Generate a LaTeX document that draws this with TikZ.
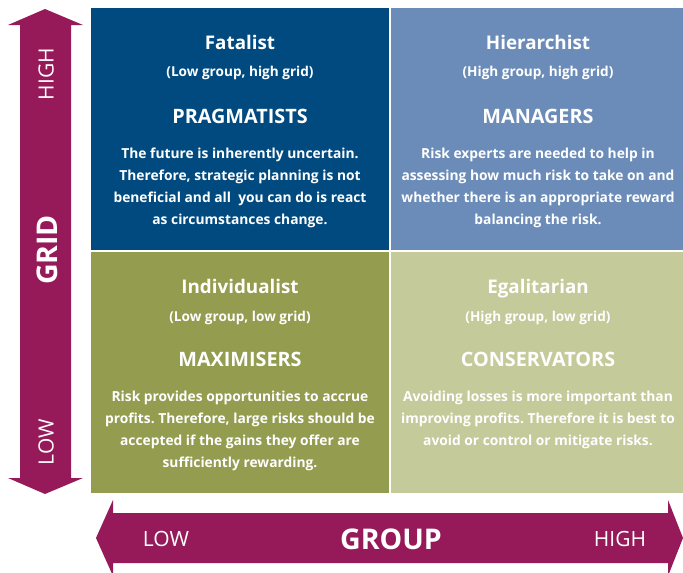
\documentclass[tikz,border=0pt]{standalone}
\usepackage{fontspec}
\setmainfont{Open Sans}
\usepackage{tikz}
\usetikzlibrary{positioning}

\definecolor{fatalblue}{RGB}{0,74,128}
\definecolor{hierblue}{RGB}{107,140,184}
\definecolor{indivgreen}{RGB}{148,156,80}
\definecolor{egalgreen}{RGB}{197,202,154}
\definecolor{axispurple}{RGB}{150,26,90}

\begin{document}
\frenchspacing
\begin{tikzpicture}[x=1pt, y=-1pt, text=white]
   \useasboundingbox (0,0) rectangle (683,573);
   \tikzset{quad/.style={rectangle, inner sep=0pt},
            title/.style={font=\fontsize{18.8}{22}\selectfont\bfseries, text height=0.75em, text depth=0.25em},
            subtitle/.style={font=\fontsize{13.6}{16}\selectfont\bfseries},
            role/.style={font=\fontsize{19.8}{22}\selectfont\bfseries},
            body/.style={align=center, font=\fontsize{13.8}{22.2}\selectfont\bfseries},
            axislabel/.style={font=\fontsize{21}{24}\selectfont},
            axistitle/.style={font=\fontsize{28.5}{32}\selectfont\bfseries}}
   % the four quadrants
   \begin{scope}[every node/.style={quad}]
    \node (q1) [fill=fatalblue, minimum width=298pt, minimum height=242pt]  at (240,129) {};
    \node (q2) [fill=hierblue, minimum width=292pt, minimum height=242pt]   at (537,129) {};
    \node (q3) [fill=indivgreen, minimum width=298pt, minimum height=241pt] at (240,372.5) {};
    \node (q4) [fill=egalgreen, minimum width=292pt, minimum height=241pt]  at (537,372.5) {};
   \end{scope}
   % Fatalist
   \node (t1) [title]    at (240,47)  {Fatalist};
   \node (s1) [subtitle] at (240,73)  {(Low group, high grid)};
   \node (r1) [role]     at (240,116) {PRAGMATISTS};
   \node (b1) [body]     at (240,188) {The future is inherently uncertain.\\Therefore, strategic planning is not\\beneficial and all \ you can do is react\\as circumstances change.};
   % Hierarchist
   \node (t2) [title]    at (538,47)  {Hierarchist};
   \node (s2) [subtitle] at (538,73)  {(High group, high grid)};
   \node (r2) [role]     at (538,116) {MANAGERS};
   \node (b2) [body]     at (538,188) {Risk experts are needed to help in\\assessing how much risk to take on and\\whether there is an appropriate reward\\balancing the risk.};
   % Individualist
   \node (t3) [title]    at (240,291) {Individualist};
   \node (s3) [subtitle] at (240,318) {(Low group, low grid)};
   \node (r3) [role]     at (240,359) {MAXIMISERS};
   \node (b3) [body]     at (240,431) {Risk provides opportunities to accrue\\profits. Therefore, large risks should be\\accepted if the gains they offer are\\sufficiently rewarding.};
   % Egalitarian
   \node (t4) [title]    at (538,291) {Egalitarian};
   \node (s4) [subtitle] at (538,318) {(High group, low grid)};
   \node (r4) [role]     at (538,359) {CONSERVATORS};
   \node (b4) [body]     at (538,420) {Avoiding losses is more important than\\improving profits. Therefore it is best to\\avoid or control or mitigate risks.};
   % grid axis
   \fill[axispurple] (45,9) -- (83,25) -- (71,25) -- (71,478) -- (83,478) -- (45,494)
        -- (8,478) -- (20,478) -- (20,25) -- (8,25) -- cycle;
   \node (gh) [axislabel, rotate=90] at (46,74)  {HIGH};
   \node (gg) [axistitle, rotate=90] at (47,250) {GRID};
   \node (gl) [axislabel, rotate=90] at (46,442) {LOW};
   % group axis
   \fill[axispurple] (96,538) -- (113,500) -- (113,513) -- (668,513) -- (668,500) -- (683,538)
        -- (668,576) -- (668,563) -- (113,563) -- (113,576) -- cycle;
   \node (pl) [axislabel] at (166,539) {LOW};
   \node (pg) [axistitle] at (391,539) {GROUP};
   \node (ph) [axislabel] at (620,539) {HIGH};
\end{tikzpicture}
\end{document}
